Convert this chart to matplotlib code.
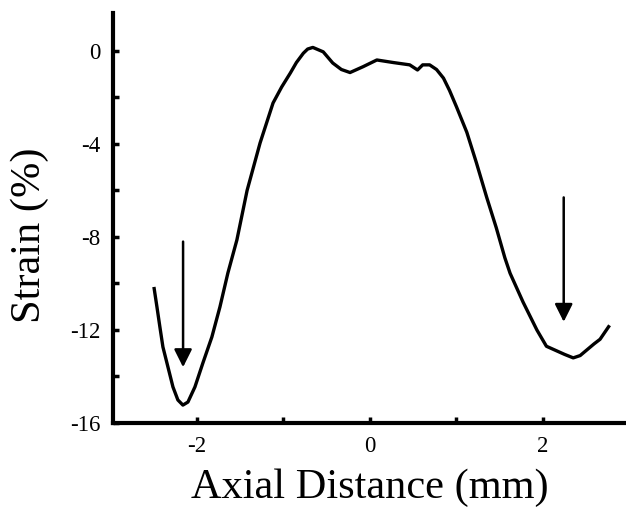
import matplotlib
matplotlib.use("Agg")
import matplotlib.pyplot as plt

# Curve data (Axial distance mm, strain %)
axial_mm = [-2.497, -2.462, -2.428, -2.393, -2.335, -2.277, -2.220, -2.162, -2.104, -2.023,
            -1.931, -1.827, -1.734, -1.642, -1.538, -1.42, -1.27, -1.12, -1.02, -0.92,
            -0.85, -0.77, -0.72, -0.66, -0.54, -0.43, -0.33, -0.23, -0.08, 0.08,
            0.27, 0.46, 0.55, 0.61, 0.69, 0.77, 0.85, 0.92, 1.00, 1.12,
            1.23, 1.35, 1.46, 1.56, 1.62, 1.77, 1.93, 2.04, 2.16, 2.25,
            2.35, 2.43, 2.51, 2.59, 2.66, 2.77]
strain_pct = [-10.15, -11.01, -11.87, -12.73, -13.59, -14.45, -15.01, -15.23, -15.10, -14.45,
              -13.42, -12.30, -11.01, -9.55, -8.13, -6.0, -3.96, -2.24, -1.55, -0.95,
              -0.5, -0.1, 0.08, 0.15, -0.04, -0.52, -0.8, -0.93, -0.68, -0.39,
              -0.5, -0.6, -0.82, -0.6, -0.6, -0.8, -1.17, -1.7, -2.4, -3.5,
              -4.8, -6.3, -7.6, -8.9, -9.56, -10.8, -12.0, -12.7, -12.9, -13.05,
              -13.2, -13.1, -12.85, -12.6, -12.4, -11.8]

# Arrows: (x, y_start, y_end)
arrows = [(-2.16, -8.2, -13.6), (2.24, -6.3, -11.65)]

x_ticks = [-2, 0, 2]
y_ticks = [0, -4, -8, -12, -16]

plt.rcParams['font.family'] = ['Liberation Serif', 'DejaVu Serif']

fig = plt.figure(figsize=(6.26, 5.08), dpi=100)
ax = fig.add_axes([113/626, 1 - 423/508, 1 - 113/626, (423 - 13)/508])

ax.plot(axial_mm, strain_pct, color='black', lw=2.4, solid_joinstyle='round',
        solid_capstyle='butt')

for x, y0, y1 in arrows:
    ax.annotate('', xy=(x, y1), xytext=(x, y0),
                arrowprops=dict(arrowstyle='-|>,head_length=0.6,head_width=0.3',
                                color='black', lw=1.8,
                                mutation_scale=18, shrinkA=0, shrinkB=0))

ax.set_xlim(-2.97, 2.96)
ax.set_ylim(-16, 1.63)

ax.set_xticks(x_ticks)
ax.set_yticks(y_ticks)
ax.set_xticks([-1, 1], minor=True)
ax.set_yticks([-2, -6, -10, -14], minor=True)
ax.set_xticklabels([str(t) for t in x_ticks])
ax.set_yticklabels([str(t) for t in y_ticks])

for s in ['top', 'right']:
    ax.spines[s].set_visible(False)
for s in ['left', 'bottom']:
    ax.spines[s].set_linewidth(3)

ax.tick_params(which='both', direction='in', width=2.5, labelsize=16.5)
ax.tick_params(which='major', length=4, pad=9)
ax.tick_params(which='minor', length=4)

ax.set_xlabel('Axial Distance (mm)', fontsize=30.5)
ax.set_ylabel('Strain (%)', fontsize=30.5)
ax.xaxis.set_label_coords(0.5, -0.112)
ax.yaxis.set_label_coords(-0.125, 0.459)

fig.savefig('out.png', dpi=100)
